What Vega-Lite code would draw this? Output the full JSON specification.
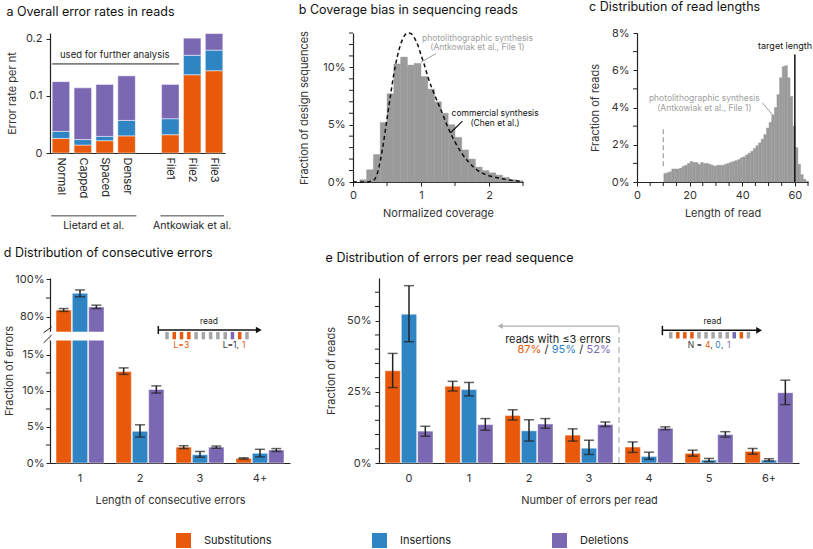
{
 "$schema": "https://vega.github.io/schema/vega-lite/v6.json",
 "background": "white",
 "padding": {"left": 3, "top": 0, "right": 0, "bottom": 0},
 "config": {
  "font": "Inter",
  "view": {"stroke": null},
  "axis": {"labelFont": "Inter", "titleFont": "Inter", "labelFontSize": 11, "titleFontSize": 11, "titleFontWeight": "normal", "labelColor": "#333", "titleColor": "#333", "domainColor": "#222", "tickColor": "#222", "tickSize": 4, "labelPadding": 3, "grid": false, "domainWidth": 1.2, "labelOverlap": false, "labelBound": false},
  "title": {"font": "Inter", "fontSize": 12.5, "fontWeight": "normal", "anchor": "start", "offset": 14, "color": "#111"},
  "legend": {"labelFont": "Inter"}
 },
 "spacing": 14,
 "vconcat": [
  {
   "spacing": 66,
   "hconcat": [
    {
     "title": "a Overall error rates in reads",
     "width": 175, "height": 120,
     "resolve": {"scale": {"x": "independent"}},
     "layer": [
      {
       "data": {"values": [
        {"sample": "Normal", "type": "Substitutions", "rate": 0.0255},
        {"sample": "Normal", "type": "Insertions", "rate": 0.0123},
        {"sample": "Normal", "type": "Deletions", "rate": 0.087},
        {"sample": "Capped", "type": "Substitutions", "rate": 0.014},
        {"sample": "Capped", "type": "Insertions", "rate": 0.0095},
        {"sample": "Capped", "type": "Deletions", "rate": 0.0905},
        {"sample": "Spaced", "type": "Substitutions", "rate": 0.0215},
        {"sample": "Spaced", "type": "Insertions", "rate": 0.0075},
        {"sample": "Spaced", "type": "Deletions", "rate": 0.091},
        {"sample": "Denser", "type": "Substitutions", "rate": 0.030},
        {"sample": "Denser", "type": "Insertions", "rate": 0.027},
        {"sample": "Denser", "type": "Deletions", "rate": 0.078},
        {"sample": "File1", "type": "Substitutions", "rate": 0.032},
        {"sample": "File1", "type": "Insertions", "rate": 0.028},
        {"sample": "File1", "type": "Deletions", "rate": 0.060},
        {"sample": "File2", "type": "Substitutions", "rate": 0.137},
        {"sample": "File2", "type": "Insertions", "rate": 0.034},
        {"sample": "File2", "type": "Deletions", "rate": 0.030},
        {"sample": "File3", "type": "Substitutions", "rate": 0.144},
        {"sample": "File3", "type": "Insertions", "rate": 0.036},
        {"sample": "File3", "type": "Deletions", "rate": 0.029}
       ]},
       "mark": {"type": "bar", "stroke": "#ffffff", "strokeWidth": 0.8, "strokeOpacity": 0.6},
       "encoding": {
        "x": {"field": "sample", "type": "nominal", "scale": {"domain": ["Normal", "Capped", "Spaced", "Denser", "gap", "File1", "File2", "File3"], "paddingInner": 0.2, "paddingOuter": 0.1}, "axis": {"title": null, "labelAngle": 90, "ticks": false, "labelPadding": 4, "labelColor": "#222", "labelOverlap": false, "labelExpr": "datum.value == 'gap' ? '' : datum.value"}},
        "y": {"field": "rate", "type": "quantitative", "stack": "zero", "scale": {"domain": [0, 0.21], "nice": false}, "axis": {"values": [0, 0.1, 0.2], "tickCount": 100, "format": "~g", "title": "Error rate per nt", "titlePadding": 8, "labelPadding": 4, "labelOverlap": false}},
        "color": {"field": "type", "type": "nominal", "scale": {"domain": ["Substitutions", "Insertions", "Deletions"], "range": ["#E8590C", "#2F84C4", "#7B68B3"]}, "legend": {"orient": "none", "legendX": 126, "legendY": 500, "direction": "horizontal", "title": null, "symbolType": "square", "symbolSize": 225, "symbolStrokeWidth": 0, "symbolOpacity": 1, "labelFontSize": 11, "labelOffset": 13, "columnPadding": 100, "labelColor": "#222"}},
        "order": {"field": "type", "sort": "descending"}
       }
      },
      {
       "layer": [
        {"data": {"values": [{"q": -0.4, "q2": 5.4, "rate": 0.156}]}, "mark": {"type": "rule", "color": "#808080", "strokeWidth": 1.6}, "encoding": {"x": {"field": "q", "type": "quantitative", "scale": {"domain": [-0.5, 7.5], "nice": false, "zero": false}, "axis": null}, "x2": {"field": "q2"}, "y": {"field": "rate", "type": "quantitative"}}},
        {"data": {"values": [{"q": -0.45, "q2": 3.45, "rate": -0.11}, {"q": 4.55, "q2": 7.45, "rate": -0.11}]}, "mark": {"type": "rule", "color": "#444", "strokeWidth": 1}, "encoding": {"x": {"field": "q", "type": "quantitative", "axis": null}, "x2": {"field": "q2"}, "y": {"field": "rate", "type": "quantitative"}}},
        {"data": {"values": [{"q": 2.46, "rate": 0.172, "t": "used for further analysis"}]}, "mark": {"type": "text", "fontSize": 9.5, "color": "#222"}, "encoding": {"x": {"field": "q", "type": "quantitative", "axis": null}, "y": {"field": "rate", "type": "quantitative"}, "text": {"field": "t"}}},
        {"data": {"values": [{"q": 1.5, "rate": -0.128, "t": "Lietard et al."}, {"q": 6.0, "rate": -0.128, "t": "Antkowiak et al."}]}, "mark": {"type": "text", "fontSize": 10.5, "color": "#222"}, "encoding": {"x": {"field": "q", "type": "quantitative", "axis": null}, "y": {"field": "rate", "type": "quantitative"}, "text": {"field": "t"}}}
       ]
      }
     ]
    },
    {
     "bounds": "flush",
     "spacing": 114,
     "hconcat": [
      {
       "title": "b Coverage bias in sequencing reads",
       "width": 170, "height": 149,
       "layer": [
        {
         "data": {"values": [
          {"x": 0.1, "x2": 0.2, "y": 0.2}, {"x": 0.2, "x2": 0.3, "y": 1.07}, {"x": 0.3, "x2": 0.4, "y": 2.4},
          {"x": 0.4, "x2": 0.5, "y": 5.2}, {"x": 0.5, "x2": 0.6, "y": 7.7}, {"x": 0.6, "x2": 0.7, "y": 10.3},
          {"x": 0.7, "x2": 0.8, "y": 10.9}, {"x": 0.8, "x2": 0.9, "y": 10.2}, {"x": 0.9, "x2": 1.0, "y": 10.35},
          {"x": 1.0, "x2": 1.1, "y": 9.2}, {"x": 1.1, "x2": 1.2, "y": 8.1}, {"x": 1.2, "x2": 1.3, "y": 7.0},
          {"x": 1.3, "x2": 1.4, "y": 6.0}, {"x": 1.4, "x2": 1.5, "y": 5.0}, {"x": 1.5, "x2": 1.6, "y": 3.9},
          {"x": 1.6, "x2": 1.7, "y": 2.8}, {"x": 1.7, "x2": 1.8, "y": 2.0}, {"x": 1.8, "x2": 1.9, "y": 1.3},
          {"x": 1.9, "x2": 2.0, "y": 1.0}, {"x": 2.0, "x2": 2.1, "y": 0.8}, {"x": 2.1, "x2": 2.2, "y": 0.6},
          {"x": 2.2, "x2": 2.3, "y": 0.4}, {"x": 2.3, "x2": 2.4, "y": 0.2}, {"x": 2.4, "x2": 2.5, "y": 0.1}
         ]},
         "mark": {"type": "rect", "color": "#9b9b9b", "stroke": "#9b9b9b", "strokeWidth": 0.4},
         "encoding": {
          "x": {"field": "x", "type": "quantitative", "scale": {"domain": [0, 2.5], "nice": false, "zero": false}, "axis": {"values": [0, 1, 2], "tickCount": 100, "format": "d", "title": "Normalized coverage", "labelFlush": false, "titlePadding": 7, "labelOverlap": false}},
          "x2": {"field": "x2"},
          "y": {"field": "y", "type": "quantitative", "scale": {"domain": [0, 13], "nice": false}, "axis": {"values": [0, 5, 10], "tickCount": 100, "labelExpr": "datum.value + '%'", "title": "Fraction of design sequences", "titlePadding": 13, "labelPadding": 4, "labelOverlap": false}},
          "y2": {"datum": 0}
         }
        },
        {
         "data": {"values": [
          {"x": -0.0588, "x2": 0, "y": 1}, {"x": -0.0588, "x2": 0, "y": 2}, {"x": -0.0588, "x2": 0, "y": 3}, {"x": -0.0588, "x2": 0, "y": 4},
          {"x": -0.0588, "x2": 0, "y": 6}, {"x": -0.0588, "x2": 0, "y": 7}, {"x": -0.0588, "x2": 0, "y": 8}, {"x": -0.0588, "x2": 0, "y": 9},
          {"x": -0.0588, "x2": 0, "y": 11}, {"x": -0.0588, "x2": 0, "y": 12}, {"x": -0.0588, "x2": 0, "y": 13}
         ]},
         "mark": {"type": "rule", "color": "#222", "strokeWidth": 1},
         "encoding": {"x": {"field": "x", "type": "quantitative"}, "x2": {"field": "x2"}, "y": {"field": "y", "type": "quantitative"}}
        },
        {
         "data": {"values": [{"x": 0.5, "y": -0.349, "y2": 0}, {"x": 1.5, "y": -0.349, "y2": 0}, {"x": 2.5, "y": -0.349, "y2": 0}]},
         "mark": {"type": "rule", "color": "#222", "strokeWidth": 1},
         "encoding": {"x": {"field": "x", "type": "quantitative"}, "y": {"field": "y", "type": "quantitative"}, "y2": {"field": "y2"}}
        },
        {
         "data": {"values": [
          {"x": 0, "y": 0}, {"x": 0.2, "y": 0}, {"x": 0.3, "y": 0.15}, {"x": 0.35, "y": 0.6}, {"x": 0.4, "y": 1.8},
          {"x": 0.45, "y": 3.5}, {"x": 0.5, "y": 5.5}, {"x": 0.55, "y": 7.5}, {"x": 0.6, "y": 9.4}, {"x": 0.65, "y": 10.9},
          {"x": 0.7, "y": 12.0}, {"x": 0.75, "y": 12.7}, {"x": 0.8, "y": 13.0}, {"x": 0.85, "y": 12.95}, {"x": 0.9, "y": 12.6},
          {"x": 0.95, "y": 12.0}, {"x": 1.0, "y": 11.1}, {"x": 1.05, "y": 10.2}, {"x": 1.1, "y": 9.2}, {"x": 1.2, "y": 7.6},
          {"x": 1.3, "y": 6.2}, {"x": 1.4, "y": 4.7}, {"x": 1.5, "y": 3.5}, {"x": 1.6, "y": 2.5}, {"x": 1.7, "y": 1.75},
          {"x": 1.8, "y": 1.15}, {"x": 1.9, "y": 0.78}, {"x": 2.0, "y": 0.55}, {"x": 2.1, "y": 0.4}, {"x": 2.2, "y": 0.28},
          {"x": 2.3, "y": 0.18}, {"x": 2.4, "y": 0.1}, {"x": 2.5, "y": 0.05}
         ]},
         "mark": {"type": "line", "color": "#111", "strokeDash": [4, 3], "strokeWidth": 1.5, "interpolate": "monotone"},
         "encoding": {"x": {"field": "x", "type": "quantitative"}, "y": {"field": "y", "type": "quantitative"}}
        },
        {
         "data": {"values": [{"x": 1.22, "x2": 1.0, "y": 11.2, "y2": 10.45}]},
         "mark": {"type": "rule", "color": "#a0a0a0", "strokeWidth": 1},
         "encoding": {"x": {"field": "x", "type": "quantitative"}, "x2": {"field": "x2"}, "y": {"field": "y", "type": "quantitative"}, "y2": {"field": "y2"}}
        },
        {
         "data": {"values": [{"x": 1.61, "x2": 1.435, "y": 5.31, "y2": 4.3}]},
         "mark": {"type": "rule", "color": "#111", "strokeWidth": 1.2},
         "encoding": {"x": {"field": "x", "type": "quantitative"}, "x2": {"field": "x2"}, "y": {"field": "y", "type": "quantitative"}, "y2": {"field": "y2"}}
        },
        {
         "data": {"values": [{"x": 1.83, "y": 12.6, "t": "photolithographic synthesis"}, {"x": 1.83, "y": 11.75, "t": "(Antkowiak et al., File 1)"}]},
         "mark": {"type": "text", "fontSize": 8.5, "color": "#a0a0a0"},
         "encoding": {"x": {"field": "x", "type": "quantitative"}, "y": {"field": "y", "type": "quantitative"}, "text": {"field": "t"}}
        },
        {
         "data": {"values": [{"x": 2.09, "y": 6.04, "t": "commercial synthesis"}, {"x": 2.09, "y": 5.17, "t": "(Chen et al.)"}]},
         "mark": {"type": "text", "fontSize": 8.5, "color": "#111"},
         "encoding": {"x": {"field": "x", "type": "quantitative"}, "y": {"field": "y", "type": "quantitative"}, "text": {"field": "t"}}
        }
       ]
      },
      {
       "title": "c Distribution of read lengths",
       "width": 171, "height": 149,
       "layer": [
        {
         "data": {"values": [
          {"x": 10, "y": 0.46}, {"x": 11, "y": 0.5}, {"x": 12, "y": 0.55}, {"x": 13, "y": 0.7}, {"x": 14, "y": 0.7},
          {"x": 15, "y": 0.7}, {"x": 16, "y": 0.75}, {"x": 17, "y": 0.85}, {"x": 18, "y": 0.9}, {"x": 19, "y": 1.0},
          {"x": 20, "y": 1.1}, {"x": 21, "y": 1.05}, {"x": 22, "y": 1.05}, {"x": 23, "y": 0.95}, {"x": 24, "y": 1.05},
          {"x": 25, "y": 1.0}, {"x": 26, "y": 1.0}, {"x": 27, "y": 0.95}, {"x": 28, "y": 0.9}, {"x": 29, "y": 0.85},
          {"x": 30, "y": 0.9}, {"x": 31, "y": 0.9}, {"x": 32, "y": 0.9}, {"x": 33, "y": 0.95}, {"x": 34, "y": 1.0},
          {"x": 35, "y": 1.05}, {"x": 36, "y": 1.1}, {"x": 37, "y": 1.15}, {"x": 38, "y": 1.2}, {"x": 39, "y": 1.3},
          {"x": 40, "y": 1.35}, {"x": 41, "y": 1.45}, {"x": 42, "y": 1.55}, {"x": 43, "y": 1.65}, {"x": 44, "y": 1.8},
          {"x": 45, "y": 1.95}, {"x": 46, "y": 2.1}, {"x": 47, "y": 2.3}, {"x": 48, "y": 2.55}, {"x": 49, "y": 2.9},
          {"x": 50, "y": 3.2}, {"x": 51, "y": 3.6}, {"x": 52, "y": 4.0}, {"x": 53, "y": 4.7}, {"x": 54, "y": 5.6},
          {"x": 55, "y": 6.2}, {"x": 56, "y": 6.25}, {"x": 57, "y": 5.6}, {"x": 58, "y": 4.6}, {"x": 59, "y": 3.0},
          {"x": 60, "y": 1.85}, {"x": 61, "y": 0.95}, {"x": 62, "y": 0.4}, {"x": 63, "y": 0.15}, {"x": 64, "y": 0.05}
         ]},
         "mark": {"type": "bar", "color": "#9b9b9b", "stroke": "#9b9b9b", "strokeWidth": 0.4, "binSpacing": 0},
         "encoding": {
          "x": {"field": "x", "type": "quantitative", "bin": {"binned": true, "step": 1}, "scale": {"domain": [0, 65], "nice": false, "zero": false}, "axis": {"values": [0, 20, 40, 60], "tickCount": 100, "format": "d", "title": "Length of read", "labelFlush": false, "titlePadding": 7, "labelOverlap": false}},
          "y": {"field": "y", "type": "quantitative", "scale": {"domain": [0, 8], "nice": false}, "axis": {"values": [0, 2, 4, 6, 8], "tickCount": 100, "labelExpr": "datum.value + '%'", "title": "Fraction of reads", "titlePadding": 11, "labelPadding": 4, "labelOverlap": false}}
         }
        },
        {
         "data": {"values": [{"x": -1.52, "x2": 0, "y": 1}, {"x": -1.52, "x2": 0, "y": 3}, {"x": -1.52, "x2": 0, "y": 5}, {"x": -1.52, "x2": 0, "y": 7}]},
         "mark": {"type": "rule", "color": "#222", "strokeWidth": 1},
         "encoding": {"x": {"field": "x", "type": "quantitative"}, "x2": {"field": "x2"}, "y": {"field": "y", "type": "quantitative"}}
        },
        {
         "data": {"values": [
          {"x": 5, "y": -0.215, "y2": 0}, {"x": 10, "y": -0.215, "y2": 0}, {"x": 15, "y": -0.215, "y2": 0}, {"x": 25, "y": -0.215, "y2": 0},
          {"x": 30, "y": -0.215, "y2": 0}, {"x": 35, "y": -0.215, "y2": 0}, {"x": 45, "y": -0.215, "y2": 0}, {"x": 50, "y": -0.215, "y2": 0},
          {"x": 55, "y": -0.215, "y2": 0}, {"x": 65, "y": -0.215, "y2": 0}
         ]},
         "mark": {"type": "rule", "color": "#222", "strokeWidth": 1},
         "encoding": {"x": {"field": "x", "type": "quantitative"}, "y": {"field": "y", "type": "quantitative"}, "y2": {"field": "y2"}}
        },
        {
         "data": {"values": [{"x": 60, "y": 0, "y2": 6.85}]},
         "mark": {"type": "rule", "color": "#111", "strokeWidth": 1.5},
         "encoding": {"x": {"field": "x", "type": "quantitative"}, "y": {"field": "y", "type": "quantitative"}, "y2": {"field": "y2"}}
        },
        {
         "data": {"values": [{"x": 10, "y": 0.85, "y2": 2.9}]},
         "mark": {"type": "rule", "color": "#a0a0a0", "strokeWidth": 1.2, "strokeDash": [5, 3]},
         "encoding": {"x": {"field": "x", "type": "quantitative"}, "y": {"field": "y", "type": "quantitative"}, "y2": {"field": "y2"}}
        },
        {
         "data": {"values": [{"x": 47.7, "x2": 51.5, "y": 4.25, "y2": 3.6}]},
         "mark": {"type": "rule", "color": "#a0a0a0", "strokeWidth": 1},
         "encoding": {"x": {"field": "x", "type": "quantitative"}, "x2": {"field": "x2"}, "y": {"field": "y", "type": "quantitative"}, "y2": {"field": "y2"}}
        },
        {
         "data": {"values": [{"x": 25.6, "y": 4.5, "t": "photolithographic synthesis"}, {"x": 25.6, "y": 4.0, "t": "(Antkowiak et al., File 1)"}]},
         "mark": {"type": "text", "fontSize": 8.5, "color": "#a0a0a0"},
         "encoding": {"x": {"field": "x", "type": "quantitative"}, "y": {"field": "y", "type": "quantitative"}, "text": {"field": "t"}}
        },
        {
         "data": {"values": [{"x": 56.3, "y": 7.3, "t": "target length"}]},
         "mark": {"type": "text", "fontSize": 9, "color": "#111"},
         "encoding": {"x": {"field": "x", "type": "quantitative"}, "y": {"field": "y", "type": "quantitative"}, "text": {"field": "t"}}
        }
       ]
      }
     ]
    }
   ]
  },
  {
   "bounds": "flush",
   "spacing": 89,
   "hconcat": [
    {
     "title": "d Distribution of consecutive errors",
     "width": 240, "height": 185,
     "resolve": {"scale": {"x": "independent"}},
     "layer": [
      {
       "data": {"values": [
        {"cat": "1", "type": "Substitutions", "v": 83.6, "lo": 82.9, "hi": 84.4},
        {"cat": "1", "type": "Insertions", "v": 92.5, "lo": 90.7, "hi": 94.3},
        {"cat": "1", "type": "Deletions", "v": 85.2, "lo": 84.4, "hi": 86.2},
        {"cat": "2", "type": "Substitutions", "v": 12.7, "lo": 12.3, "hi": 13.2},
        {"cat": "2", "type": "Insertions", "v": 4.4, "lo": 3.6, "hi": 5.3},
        {"cat": "2", "type": "Deletions", "v": 10.2, "lo": 9.7, "hi": 10.7},
        {"cat": "3", "type": "Substitutions", "v": 2.2, "lo": 2.0, "hi": 2.4},
        {"cat": "3", "type": "Insertions", "v": 1.15, "lo": 0.8, "hi": 1.6},
        {"cat": "3", "type": "Deletions", "v": 2.2, "lo": 2.05, "hi": 2.35},
        {"cat": "4+", "type": "Substitutions", "v": 0.65, "lo": 0.55, "hi": 0.72},
        {"cat": "4+", "type": "Insertions", "v": 1.35, "lo": 0.85, "hi": 1.9},
        {"cat": "4+", "type": "Deletions", "v": 1.8, "lo": 1.6, "hi": 2.0}
       ]},
       "layer": [
        {
         "mark": {"type": "bar", "stroke": "#ffffff", "strokeWidth": 0.8, "strokeOpacity": 0.6},
         "encoding": {
          "x": {"field": "cat", "type": "nominal", "scale": {"domain": ["1", "2", "3", "4+"], "paddingInner": 0.2, "paddingOuter": 0.1}, "axis": {"title": "Length of consecutive errors", "labelAngle": 0, "ticks": false, "labelPadding": 9, "titlePadding": 11, "labelOverlap": false}},
          "xOffset": {"field": "type", "type": "nominal", "scale": {"domain": ["Substitutions", "Insertions", "Deletions"], "paddingInner": 0.06}},
          "y": {"field": "v", "type": "quantitative", "scale": {"domain": [0, 17, 72, 100.7], "range": [185, 62.5, 53.8, 0], "nice": false, "zero": false}, "axis": {"values": [0, 5, 10, 15, 80, 100], "tickCount": 100, "labelExpr": "datum.value + '%'", "title": "Fraction of errors", "titlePadding": 0, "labelPadding": 2, "labelOverlap": false}},
          "color": {"field": "type", "type": "nominal", "scale": {"domain": ["Substitutions", "Insertions", "Deletions"], "range": ["#E8590C", "#2F84C4", "#7B68B3"]}, "legend": {"orient": "none", "legendX": 126, "legendY": 500, "direction": "horizontal", "title": null, "symbolType": "square", "symbolSize": 225, "symbolStrokeWidth": 0, "symbolOpacity": 1, "labelFontSize": 11, "labelOffset": 13, "columnPadding": 100, "labelColor": "#222"}}
         }
        },
        {
         "mark": {"type": "rule", "color": "#222", "strokeWidth": 1.5},
         "encoding": {"x": {"field": "cat", "type": "nominal"}, "xOffset": {"field": "type", "type": "nominal"}, "y": {"field": "lo", "type": "quantitative"}, "y2": {"field": "hi"}}
        },
        {
         "mark": {"type": "tick", "color": "#222", "thickness": 1.5, "size": 10},
         "encoding": {"x": {"field": "cat", "type": "nominal"}, "xOffset": {"field": "type", "type": "nominal"}, "y": {"field": "lo", "type": "quantitative"}}
        },
        {
         "mark": {"type": "tick", "color": "#222", "thickness": 1.5, "size": 10},
         "encoding": {"x": {"field": "cat", "type": "nominal"}, "xOffset": {"field": "type", "type": "nominal"}, "y": {"field": "hi", "type": "quantitative"}}
        }
       ]
      },
      {
       "layer": [
        {"data": {"values": [{"q": -0.5, "q2": 3.5, "v": 17, "v2": 72}]}, "mark": {"type": "rect", "color": "#ffffff"}, "encoding": {"x": {"field": "q", "type": "quantitative", "scale": {"domain": [-0.5, 3.5], "nice": false, "zero": false}, "axis": null}, "x2": {"field": "q2"}, "y": {"field": "v", "type": "quantitative"}, "y2": {"field": "v2"}}},
        {"data": {"values": [{"q": -0.5667, "q2": -0.5, "v": 2.5}, {"q": -0.5667, "q2": -0.5, "v": 7.5}, {"q": -0.5667, "q2": -0.5, "v": 12.5}, {"q": -0.5667, "q2": -0.5, "v": 90}]}, "mark": {"type": "rule", "color": "#222", "strokeWidth": 1}, "encoding": {"x": {"field": "q", "type": "quantitative", "axis": null}, "x2": {"field": "q2"}, "y": {"field": "v", "type": "quantitative"}}},
        {"data": {"values": [{"q": -0.605, "q2": -0.472, "v": 66.3, "v2": 74.6}, {"q": -0.605, "q2": -0.472, "v": 16.68, "v2": 51.8}]}, "mark": {"type": "rule", "color": "#222", "strokeWidth": 1}, "encoding": {"x": {"field": "q", "type": "quantitative", "axis": null}, "x2": {"field": "q2"}, "y": {"field": "v", "type": "quantitative"}, "y2": {"field": "v2"}}},
        {"data": {"values": [{"q": 1.305, "q2": 2.99, "v": 72.97}]}, "mark": {"type": "rule", "color": "#111", "strokeWidth": 1.5}, "encoding": {"x": {"field": "q", "type": "quantitative", "axis": null}, "x2": {"field": "q2"}, "y": {"field": "v", "type": "quantitative"}}},
        {"data": {"values": [{"q": 1.305, "v": 75.1, "v2": 58.1}]}, "mark": {"type": "rule", "color": "#111", "strokeWidth": 1.5}, "encoding": {"x": {"field": "q", "type": "quantitative", "axis": null}, "y": {"field": "v", "type": "quantitative"}, "y2": {"field": "v2"}}},
        {"data": {"values": [{"q": 2.98, "v": 72.97}]}, "mark": {"type": "point", "shape": "triangle-right", "size": 45, "filled": true, "color": "#111", "opacity": 1}, "encoding": {"x": {"field": "q", "type": "quantitative", "axis": null}, "y": {"field": "v", "type": "quantitative"}}},
        {"data": {"values": [{"q": 1.45, "v": 70.7, "v2": 24.6}, {"q": 1.935, "v": 70.7, "v2": 24.6}, {"q": 2.056, "v": 70.7, "v2": 24.6}, {"q": 2.177, "v": 70.7, "v2": 24.6}, {"q": 2.298, "v": 70.7, "v2": 24.6}, {"q": 2.42, "v": 70.7, "v2": 24.6}, {"q": 2.783, "v": 70.7, "v2": 24.6}]}, "mark": {"type": "rule", "color": "#a6a6a6", "strokeWidth": 3.5}, "encoding": {"x": {"field": "q", "type": "quantitative", "axis": null}, "y": {"field": "v", "type": "quantitative"}, "y2": {"field": "v2"}}},
        {"data": {"values": [{"q": 1.571, "v": 70.7, "v2": 24.6}, {"q": 1.692, "v": 70.7, "v2": 24.6}, {"q": 1.814, "v": 70.7, "v2": 24.6}, {"q": 2.662, "v": 70.7, "v2": 24.6}]}, "mark": {"type": "rule", "color": "#E8590C", "strokeWidth": 3.5}, "encoding": {"x": {"field": "q", "type": "quantitative", "axis": null}, "y": {"field": "v", "type": "quantitative"}, "y2": {"field": "v2"}}},
        {"data": {"values": [{"q": 2.541, "v": 70.7, "v2": 24.6}]}, "mark": {"type": "rule", "color": "#7B68B3", "strokeWidth": 3.5}, "encoding": {"x": {"field": "q", "type": "quantitative", "axis": null}, "y": {"field": "v", "type": "quantitative"}, "y2": {"field": "v2"}}},
        {"data": {"values": [{"q": 2.15, "v": 77.77, "t": "read"}]}, "mark": {"type": "text", "fontSize": 8.5, "color": "#222"}, "encoding": {"x": {"field": "q", "type": "quantitative", "axis": null}, "y": {"field": "v", "type": "quantitative"}, "text": {"field": "t"}}},
        {"data": {"values": [{"q": 1.69, "v": 16.33, "t": "L=3"}]}, "mark": {"type": "text", "fontSize": 8.5, "color": "#E8590C"}, "encoding": {"x": {"field": "q", "type": "quantitative", "axis": null}, "y": {"field": "v", "type": "quantitative"}, "text": {"field": "t"}}},
        {"data": {"values": [{"q": 2.378, "v": 16.33, "t": "L=1,"}]}, "mark": {"type": "text", "fontSize": 8.5, "color": "#333", "align": "left"}, "encoding": {"x": {"field": "q", "type": "quantitative", "axis": null}, "y": {"field": "v", "type": "quantitative"}, "text": {"field": "t"}}},
        {"data": {"values": [{"q": 2.70, "v": 16.33, "t": "1"}]}, "mark": {"type": "text", "fontSize": 8.5, "color": "#E8590C", "align": "left"}, "encoding": {"x": {"field": "q", "type": "quantitative", "axis": null}, "y": {"field": "v", "type": "quantitative"}, "text": {"field": "t"}}}
       ]
      }
     ]
    },
    {
     "title": "e Distribution of errors per read sequence",
     "width": 420, "height": 185,
     "resolve": {"scale": {"x": "independent"}},
     "layer": [
      {
       "data": {"values": [
        {"cat": "0", "type": "Substitutions", "v": 32.4, "lo": 26.5, "hi": 38.5},
        {"cat": "0", "type": "Insertions", "v": 52.3, "lo": 42.6, "hi": 62.3},
        {"cat": "0", "type": "Deletions", "v": 11.2, "lo": 9.4, "hi": 12.9},
        {"cat": "1", "type": "Substitutions", "v": 27.0, "lo": 25.3, "hi": 28.7},
        {"cat": "1", "type": "Insertions", "v": 25.8, "lo": 23.6, "hi": 28.3},
        {"cat": "1", "type": "Deletions", "v": 13.5, "lo": 11.5, "hi": 15.6},
        {"cat": "2", "type": "Substitutions", "v": 16.7, "lo": 15.1, "hi": 18.7},
        {"cat": "2", "type": "Insertions", "v": 11.3, "lo": 7.7, "hi": 15.2},
        {"cat": "2", "type": "Deletions", "v": 13.7, "lo": 12.2, "hi": 15.6},
        {"cat": "3", "type": "Substitutions", "v": 9.8, "lo": 7.7, "hi": 12.0},
        {"cat": "3", "type": "Insertions", "v": 5.2, "lo": 3.0, "hi": 8.0},
        {"cat": "3", "type": "Deletions", "v": 13.5, "lo": 12.8, "hi": 14.4},
        {"cat": "4", "type": "Substitutions", "v": 5.6, "lo": 3.7, "hi": 7.4},
        {"cat": "4", "type": "Insertions", "v": 2.3, "lo": 1.3, "hi": 3.8},
        {"cat": "4", "type": "Deletions", "v": 12.2, "lo": 11.7, "hi": 12.7},
        {"cat": "5", "type": "Substitutions", "v": 3.4, "lo": 2.4, "hi": 4.5},
        {"cat": "5", "type": "Insertions", "v": 1.0, "lo": 0.5, "hi": 1.6},
        {"cat": "5", "type": "Deletions", "v": 10.0, "lo": 9.1, "hi": 11.0},
        {"cat": "6+", "type": "Substitutions", "v": 4.1, "lo": 3.1, "hi": 5.1},
        {"cat": "6+", "type": "Insertions", "v": 1.0, "lo": 0.7, "hi": 1.5},
        {"cat": "6+", "type": "Deletions", "v": 24.7, "lo": 20.5, "hi": 29.1}
       ]},
       "layer": [
        {
         "mark": {"type": "bar", "stroke": "#ffffff", "strokeWidth": 0.8, "strokeOpacity": 0.6},
         "encoding": {
          "x": {"field": "cat", "type": "nominal", "scale": {"domain": ["0", "1", "2", "3", "4", "5", "6+"], "paddingInner": 0.2, "paddingOuter": 0.1}, "axis": {"title": "Number of errors per read", "labelAngle": 0, "ticks": false, "labelPadding": 9, "titlePadding": 11, "labelOverlap": false}},
          "xOffset": {"field": "type", "type": "nominal", "scale": {"domain": ["Substitutions", "Insertions", "Deletions"], "paddingInner": 0.06}},
          "y": {"field": "v", "type": "quantitative", "scale": {"domain": [0, 65], "nice": false}, "axis": {"values": [0, 25, 50], "tickCount": 100, "labelExpr": "datum.value + '%'", "title": "Fraction of reads", "titlePadding": 10, "labelPadding": 4, "labelOverlap": false}},
          "color": {"field": "type", "type": "nominal", "scale": {"domain": ["Substitutions", "Insertions", "Deletions"], "range": ["#E8590C", "#2F84C4", "#7B68B3"]}, "legend": {"orient": "none", "legendX": 126, "legendY": 500, "direction": "horizontal", "title": null, "symbolType": "square", "symbolSize": 225, "symbolStrokeWidth": 0, "symbolOpacity": 1, "labelFontSize": 11, "labelOffset": 13, "columnPadding": 100, "labelColor": "#222"}}
         }
        },
        {
         "mark": {"type": "rule", "color": "#222", "strokeWidth": 1.5},
         "encoding": {"x": {"field": "cat", "type": "nominal"}, "xOffset": {"field": "type", "type": "nominal"}, "y": {"field": "lo", "type": "quantitative"}, "y2": {"field": "hi"}}
        },
        {
         "mark": {"type": "tick", "color": "#222", "thickness": 1.5, "size": 10},
         "encoding": {"x": {"field": "cat", "type": "nominal"}, "xOffset": {"field": "type", "type": "nominal"}, "y": {"field": "lo", "type": "quantitative"}}
        },
        {
         "mark": {"type": "tick", "color": "#222", "thickness": 1.5, "size": 10},
         "encoding": {"x": {"field": "cat", "type": "nominal"}, "xOffset": {"field": "type", "type": "nominal"}, "y": {"field": "hi", "type": "quantitative"}}
        }
       ]
      },
      {
       "layer": [
        {"data": {"values": [{"q": 3.5, "v": 0, "v2": 48.1}]}, "mark": {"type": "rule", "color": "#b0b0b0", "strokeWidth": 1.2, "strokeDash": [6, 4]}, "encoding": {"x": {"field": "q", "type": "quantitative", "scale": {"domain": [-0.5, 6.5], "nice": false, "zero": false}, "axis": null}, "y": {"field": "v", "type": "quantitative"}, "y2": {"field": "v2"}}},
        {"data": {"values": [{"q": -0.5667, "q2": -0.5, "v": 5}, {"q": -0.5667, "q2": -0.5, "v": 10}, {"q": -0.5667, "q2": -0.5, "v": 15}, {"q": -0.5667, "q2": -0.5, "v": 20}, {"q": -0.5667, "q2": -0.5, "v": 30}, {"q": -0.5667, "q2": -0.5, "v": 35}, {"q": -0.5667, "q2": -0.5, "v": 40}, {"q": -0.5667, "q2": -0.5, "v": 45}, {"q": -0.5667, "q2": -0.5, "v": 55}, {"q": -0.5667, "q2": -0.5, "v": 60}]}, "mark": {"type": "rule", "color": "#222", "strokeWidth": 1}, "encoding": {"x": {"field": "q", "type": "quantitative", "axis": null}, "x2": {"field": "q2"}, "y": {"field": "v", "type": "quantitative"}}},
        {"data": {"values": [{"q": 1.52, "q2": 3.5, "v": 48.1}]}, "mark": {"type": "rule", "color": "#b0b0b0", "strokeWidth": 1.2}, "encoding": {"x": {"field": "q", "type": "quantitative", "axis": null}, "x2": {"field": "q2"}, "y": {"field": "v", "type": "quantitative"}}},
        {"data": {"values": [{"q": 1.52, "v": 48.1}]}, "mark": {"type": "point", "shape": "triangle-left", "size": 35, "filled": true, "color": "#b0b0b0", "opacity": 1}, "encoding": {"x": {"field": "q", "type": "quantitative", "axis": null}, "y": {"field": "v", "type": "quantitative"}}},
        {"data": {"values": [{"q": 3.362, "v": 43.1, "t": "reads with ≤3 errors"}]}, "mark": {"type": "text", "fontSize": 11, "color": "#222", "align": "right"}, "encoding": {"x": {"field": "q", "type": "quantitative", "axis": null}, "y": {"field": "v", "type": "quantitative"}, "text": {"field": "t"}}},
        {"data": {"values": [{"q": 2.205, "v": 39.6, "t": "87%"}]}, "mark": {"type": "text", "fontSize": 11, "color": "#E8590C", "align": "right"}, "encoding": {"x": {"field": "q", "type": "quantitative", "axis": null}, "y": {"field": "v", "type": "quantitative"}, "text": {"field": "t"}}},
        {"data": {"values": [{"q": 2.783, "v": 39.6, "t": "95%"}]}, "mark": {"type": "text", "fontSize": 11, "color": "#2F84C4", "align": "right"}, "encoding": {"x": {"field": "q", "type": "quantitative", "axis": null}, "y": {"field": "v", "type": "quantitative"}, "text": {"field": "t"}}},
        {"data": {"values": [{"q": 3.362, "v": 39.6, "t": "52%"}]}, "mark": {"type": "text", "fontSize": 11, "color": "#7B68B3", "align": "right"}, "encoding": {"x": {"field": "q", "type": "quantitative", "axis": null}, "y": {"field": "v", "type": "quantitative"}, "text": {"field": "t"}}},
        {"data": {"values": [{"q": 2.293, "v": 39.6, "t": "/"}, {"q": 2.872, "v": 39.6, "t": "/"}]}, "mark": {"type": "text", "fontSize": 11, "color": "#222"}, "encoding": {"x": {"field": "q", "type": "quantitative", "axis": null}, "y": {"field": "v", "type": "quantitative"}, "text": {"field": "t"}}},
        {"data": {"values": [{"q": 4.223, "q2": 5.84, "v": 46.6}]}, "mark": {"type": "rule", "color": "#111", "strokeWidth": 1.5}, "encoding": {"x": {"field": "q", "type": "quantitative", "axis": null}, "x2": {"field": "q2"}, "y": {"field": "v", "type": "quantitative"}}},
        {"data": {"values": [{"q": 4.223, "v": 48.2, "v2": 44.9}]}, "mark": {"type": "rule", "color": "#111", "strokeWidth": 1.5}, "encoding": {"x": {"field": "q", "type": "quantitative", "axis": null}, "y": {"field": "v", "type": "quantitative"}, "y2": {"field": "v2"}}},
        {"data": {"values": [{"q": 5.835, "v": 46.6}]}, "mark": {"type": "point", "shape": "triangle-right", "size": 45, "filled": true, "color": "#111", "opacity": 1}, "encoding": {"x": {"field": "q", "type": "quantitative", "axis": null}, "y": {"field": "v", "type": "quantitative"}}},
        {"data": {"values": [{"q": 4.362, "v": 46.0, "v2": 43.75}, {"q": 4.833, "v": 46.0, "v2": 43.75}, {"q": 4.95, "v": 46.0, "v2": 43.75}, {"q": 5.068, "v": 46.0, "v2": 43.75}, {"q": 5.186, "v": 46.0, "v2": 43.75}, {"q": 5.304, "v": 46.0, "v2": 43.75}, {"q": 5.657, "v": 46.0, "v2": 43.75}]}, "mark": {"type": "rule", "color": "#a6a6a6", "strokeWidth": 3.5}, "encoding": {"x": {"field": "q", "type": "quantitative", "axis": null}, "y": {"field": "v", "type": "quantitative"}, "y2": {"field": "v2"}}},
        {"data": {"values": [{"q": 4.48, "v": 46.0, "v2": 43.75}, {"q": 4.597, "v": 46.0, "v2": 43.75}, {"q": 4.715, "v": 46.0, "v2": 43.75}, {"q": 5.539, "v": 46.0, "v2": 43.75}]}, "mark": {"type": "rule", "color": "#E8590C", "strokeWidth": 3.5}, "encoding": {"x": {"field": "q", "type": "quantitative", "axis": null}, "y": {"field": "v", "type": "quantitative"}, "y2": {"field": "v2"}}},
        {"data": {"values": [{"q": 5.421, "v": 46.0, "v2": 43.75}]}, "mark": {"type": "rule", "color": "#7B68B3", "strokeWidth": 3.5}, "encoding": {"x": {"field": "q", "type": "quantitative", "axis": null}, "y": {"field": "v", "type": "quantitative"}, "y2": {"field": "v2"}}},
        {"data": {"values": [{"q": 5.057, "v": 49.8, "t": "read"}]}, "mark": {"type": "text", "fontSize": 8.5, "color": "#222"}, "encoding": {"x": {"field": "q", "type": "quantitative", "axis": null}, "y": {"field": "v", "type": "quantitative"}, "text": {"field": "t"}}},
        {"data": {"values": [{"q": 4.645, "v": 41.6, "t": "N ="}]}, "mark": {"type": "text", "fontSize": 8.5, "color": "#333", "align": "left"}, "encoding": {"x": {"field": "q", "type": "quantitative", "axis": null}, "y": {"field": "v", "type": "quantitative"}, "text": {"field": "t"}}},
        {"data": {"values": [{"q": 5.04, "v": 41.6, "t": ","}, {"q": 5.22, "v": 41.6, "t": ","}]}, "mark": {"type": "text", "fontSize": 8.5, "color": "#333"}, "encoding": {"x": {"field": "q", "type": "quantitative", "axis": null}, "y": {"field": "v", "type": "quantitative"}, "text": {"field": "t"}}},
        {"data": {"values": [{"q": 4.98, "v": 41.6, "t": "4"}]}, "mark": {"type": "text", "fontSize": 8.5, "color": "#E8590C"}, "encoding": {"x": {"field": "q", "type": "quantitative", "axis": null}, "y": {"field": "v", "type": "quantitative"}, "text": {"field": "t"}}},
        {"data": {"values": [{"q": 5.15, "v": 41.6, "t": "0"}]}, "mark": {"type": "text", "fontSize": 8.5, "color": "#2F84C4"}, "encoding": {"x": {"field": "q", "type": "quantitative", "axis": null}, "y": {"field": "v", "type": "quantitative"}, "text": {"field": "t"}}},
        {"data": {"values": [{"q": 5.33, "v": 41.6, "t": "1"}]}, "mark": {"type": "text", "fontSize": 8.5, "color": "#7B68B3"}, "encoding": {"x": {"field": "q", "type": "quantitative", "axis": null}, "y": {"field": "v", "type": "quantitative"}, "text": {"field": "t"}}}
       ]
      }
     ]
    }
   ]
  }
 ]
}
